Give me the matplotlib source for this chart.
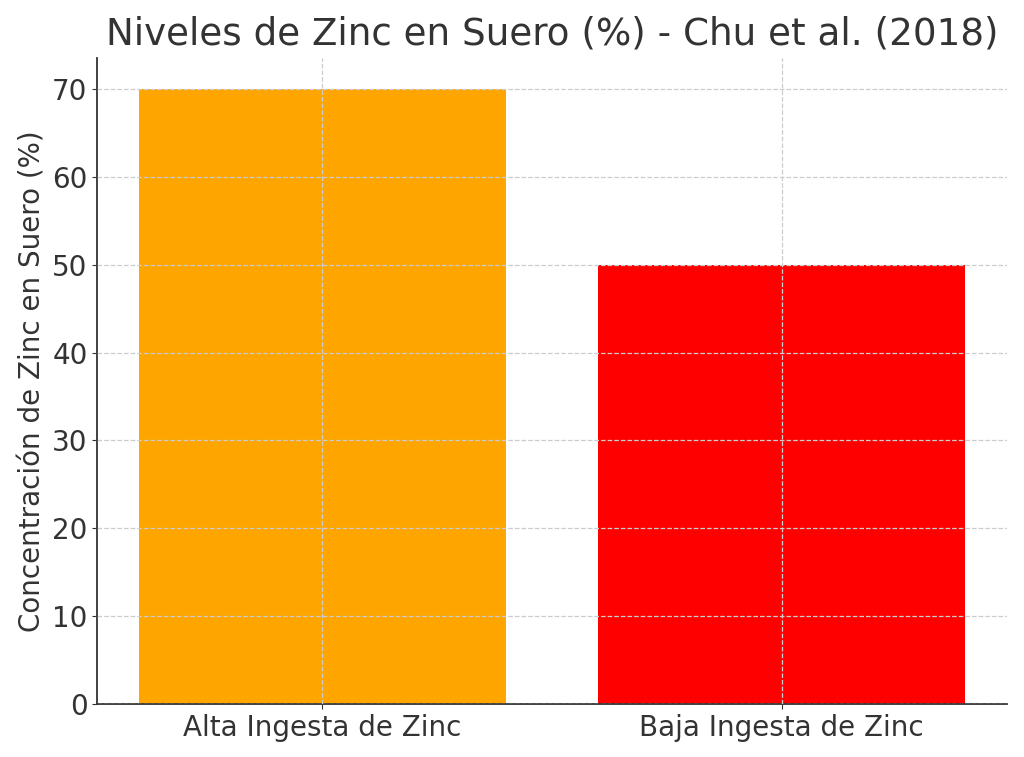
import matplotlib.pyplot as plt

categories = ["Alta Ingesta de Zinc", "Baja Ingesta de Zinc"]
values = [70, 50]
colors = ["orange", "red"]

plt.rcParams["text.color"] = "#333333"
plt.rcParams["axes.labelcolor"] = "#333333"
plt.rcParams["xtick.color"] = "#333333"
plt.rcParams["ytick.color"] = "#333333"

fig, ax = plt.subplots(figsize=(10.24, 7.57), dpi=100)
ax.bar(categories, values, color=colors, width=0.8)
ax.set_title("Niveles de Zinc en Suero (%) - Chu et al. (2018)", fontsize=26.8, pad=10)
ax.set_ylabel("Concentración de Zinc en Suero (%)", fontsize=20)
ax.tick_params(axis="both", labelsize=20)
ax.grid(True, linestyle="--", color="#cccccc", linewidth=0.9)
ax.set_axisbelow(False)
for s in ("top", "right"):
    ax.spines[s].set_visible(False)
ax.spines["left"].set_color("#333333")
ax.spines["bottom"].set_color("#333333")
ax.spines["left"].set_linewidth(1.3)
ax.spines["bottom"].set_linewidth(1.3)
fig.subplots_adjust(left=0.095, right=0.983, top=0.923, bottom=0.07)
fig.savefig("out.png", dpi=100)
